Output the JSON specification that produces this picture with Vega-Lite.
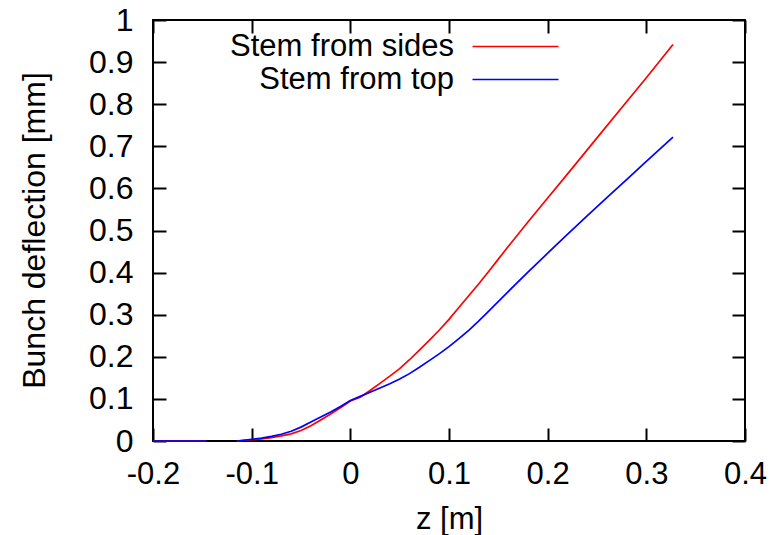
{
  "$schema": "https://vega.github.io/schema/vega-lite/v6.json",
  "width": 592,
  "height": 421,
  "autosize": {"type": "none"},
  "padding": {"left": 153, "top": 20, "right": 29, "bottom": 94},
  "background": "white",
  "config": {
    "font": "Liberation Sans",
    "view": {"stroke": "black", "strokeWidth": 2},
    "axis": {
      "domain": false,
      "grid": false,
      "tickColor": "black",
      "tickWidth": 2,
      "tickSize": -13,
      "labelColor": "black",
      "labelFontSize": 31,
      "titleColor": "black",
      "titleFontSize": 31,
      "titleFontWeight": "normal",
      "labelFlush": false,
      "labelOverlap": false
    }
  },
  "data": {
    "values": [
      {"series": "Stem from sides", "seg": "a", "z": -0.2, "v": 0},
      {"series": "Stem from sides", "seg": "a", "z": -0.146, "v": 0},
      {"series": "Stem from sides", "seg": "b", "z": -0.115, "v": 0},
      {"series": "Stem from sides", "seg": "b", "z": -0.1, "v": 0.003},
      {"series": "Stem from sides", "seg": "b", "z": -0.09, "v": 0.005},
      {"series": "Stem from sides", "seg": "b", "z": -0.08, "v": 0.008},
      {"series": "Stem from sides", "seg": "b", "z": -0.07, "v": 0.012},
      {"series": "Stem from sides", "seg": "b", "z": -0.06, "v": 0.017},
      {"series": "Stem from sides", "seg": "b", "z": -0.05, "v": 0.025},
      {"series": "Stem from sides", "seg": "b", "z": -0.04, "v": 0.036},
      {"series": "Stem from sides", "seg": "b", "z": -0.03, "v": 0.05},
      {"series": "Stem from sides", "seg": "b", "z": -0.02, "v": 0.064},
      {"series": "Stem from sides", "seg": "b", "z": -0.01, "v": 0.079},
      {"series": "Stem from sides", "seg": "b", "z": 0, "v": 0.095},
      {"series": "Stem from sides", "seg": "b", "z": 0.01, "v": 0.104},
      {"series": "Stem from sides", "seg": "b", "z": 0.02, "v": 0.12},
      {"series": "Stem from sides", "seg": "b", "z": 0.03, "v": 0.137},
      {"series": "Stem from sides", "seg": "b", "z": 0.04, "v": 0.154},
      {"series": "Stem from sides", "seg": "b", "z": 0.05, "v": 0.172},
      {"series": "Stem from sides", "seg": "b", "z": 0.06, "v": 0.193},
      {"series": "Stem from sides", "seg": "b", "z": 0.07, "v": 0.216},
      {"series": "Stem from sides", "seg": "b", "z": 0.08, "v": 0.239},
      {"series": "Stem from sides", "seg": "b", "z": 0.09, "v": 0.263},
      {"series": "Stem from sides", "seg": "b", "z": 0.1, "v": 0.289},
      {"series": "Stem from sides", "seg": "b", "z": 0.11, "v": 0.317},
      {"series": "Stem from sides", "seg": "b", "z": 0.12, "v": 0.345},
      {"series": "Stem from sides", "seg": "b", "z": 0.13, "v": 0.373},
      {"series": "Stem from sides", "seg": "b", "z": 0.14, "v": 0.402},
      {"series": "Stem from sides", "seg": "b", "z": 0.15, "v": 0.432},
      {"series": "Stem from sides", "seg": "b", "z": 0.16, "v": 0.462},
      {"series": "Stem from sides", "seg": "b", "z": 0.18, "v": 0.52},
      {"series": "Stem from sides", "seg": "b", "z": 0.2, "v": 0.577},
      {"series": "Stem from sides", "seg": "b", "z": 0.22, "v": 0.634},
      {"series": "Stem from sides", "seg": "b", "z": 0.25, "v": 0.72},
      {"series": "Stem from sides", "seg": "b", "z": 0.28, "v": 0.806},
      {"series": "Stem from sides", "seg": "b", "z": 0.3, "v": 0.863},
      {"series": "Stem from sides", "seg": "b", "z": 0.327, "v": 0.942},
      {"series": "Stem from top", "seg": "a", "z": -0.2, "v": 0},
      {"series": "Stem from top", "seg": "a", "z": -0.146, "v": 0},
      {"series": "Stem from top", "seg": "b", "z": -0.115, "v": 0},
      {"series": "Stem from top", "seg": "b", "z": -0.1, "v": 0.004},
      {"series": "Stem from top", "seg": "b", "z": -0.09, "v": 0.007},
      {"series": "Stem from top", "seg": "b", "z": -0.08, "v": 0.011},
      {"series": "Stem from top", "seg": "b", "z": -0.07, "v": 0.016},
      {"series": "Stem from top", "seg": "b", "z": -0.06, "v": 0.023},
      {"series": "Stem from top", "seg": "b", "z": -0.05, "v": 0.033},
      {"series": "Stem from top", "seg": "b", "z": -0.04, "v": 0.045},
      {"series": "Stem from top", "seg": "b", "z": -0.03, "v": 0.057},
      {"series": "Stem from top", "seg": "b", "z": -0.02, "v": 0.069},
      {"series": "Stem from top", "seg": "b", "z": -0.01, "v": 0.082},
      {"series": "Stem from top", "seg": "b", "z": 0, "v": 0.096},
      {"series": "Stem from top", "seg": "b", "z": 0.01, "v": 0.106},
      {"series": "Stem from top", "seg": "b", "z": 0.02, "v": 0.116},
      {"series": "Stem from top", "seg": "b", "z": 0.03, "v": 0.126},
      {"series": "Stem from top", "seg": "b", "z": 0.04, "v": 0.136},
      {"series": "Stem from top", "seg": "b", "z": 0.05, "v": 0.147},
      {"series": "Stem from top", "seg": "b", "z": 0.06, "v": 0.16},
      {"series": "Stem from top", "seg": "b", "z": 0.07, "v": 0.175},
      {"series": "Stem from top", "seg": "b", "z": 0.08, "v": 0.191},
      {"series": "Stem from top", "seg": "b", "z": 0.09, "v": 0.207},
      {"series": "Stem from top", "seg": "b", "z": 0.1, "v": 0.224},
      {"series": "Stem from top", "seg": "b", "z": 0.11, "v": 0.243},
      {"series": "Stem from top", "seg": "b", "z": 0.12, "v": 0.263},
      {"series": "Stem from top", "seg": "b", "z": 0.13, "v": 0.285},
      {"series": "Stem from top", "seg": "b", "z": 0.14, "v": 0.308},
      {"series": "Stem from top", "seg": "b", "z": 0.16, "v": 0.355},
      {"series": "Stem from top", "seg": "b", "z": 0.18, "v": 0.401},
      {"series": "Stem from top", "seg": "b", "z": 0.2, "v": 0.446},
      {"series": "Stem from top", "seg": "b", "z": 0.22, "v": 0.491},
      {"series": "Stem from top", "seg": "b", "z": 0.24, "v": 0.535},
      {"series": "Stem from top", "seg": "b", "z": 0.26, "v": 0.578},
      {"series": "Stem from top", "seg": "b", "z": 0.28, "v": 0.621},
      {"series": "Stem from top", "seg": "b", "z": 0.3, "v": 0.664},
      {"series": "Stem from top", "seg": "b", "z": 0.327, "v": 0.722}
    ]
  },
  "layer": [
    {
      "mark": {"type": "line", "strokeWidth": 1.7},
      "encoding": {
        "x": {
          "field": "z", "type": "quantitative",
          "scale": {"domain": [-0.2, 0.4], "nice": false, "zero": false},
          "axis": {
            "orient": "bottom",
            "values": [-0.2, -0.1, 0, 0.1, 0.2, 0.3, 0.4],
            "format": "~g",
            "labelExpr": "replace(datum.label, '\u2212', '-')",
            "labelPadding": 31,
            "title": "z [m]",
            "titleY": 87,
            "titleBaseline": "alphabetic"
          }
        },
        "y": {
          "field": "v", "type": "quantitative",
          "scale": {"domain": [0, 1], "nice": false},
          "axis": {
            "orient": "left",
            "values": [0, 0.1, 0.2, 0.3, 0.4, 0.5, 0.6, 0.7, 0.8, 0.9, 1],
            "format": "~g",
            "labelFontSize": 32,
            "labelPadding": 33,
            "labelBaseline": "middle",
            "title": "Bunch deflection [mm]",
            "titleFontSize": 32,
            "titleX": -109,
            "titleY": 210,
            "titleAngle": -90,
            "titleAlign": "center",
            "titleBaseline": "alphabetic"
          }
        },
        "color": {
          "field": "series", "type": "nominal",
          "scale": {"domain": ["Stem from sides", "Stem from top"], "range": ["#ff0000", "#0000ff"]},
          "legend": {
            "orient": "none",
            "legendX": 347,
            "legendY": 11,
            "title": null,
            "padding": 0,
            "symbolType": "M-10,0H10",
            "symbolSize": 74,
            "symbolStrokeWidth": 1.7,
            "labelFontSize": 31,
            "labelColor": "black",
            "labelAlign": "right",
            "labelOffset": -77,
            "labelLimit": 0,
            "rowPadding": 1
          }
        },
        "detail": {"field": "seg"}
      }
    },
    {
      "mark": {"type": "line", "opacity": 0},
      "encoding": {
        "x": {
          "field": "z", "type": "quantitative",
          "axis": {"orient": "top", "values": [-0.2, -0.1, 0, 0.1, 0.2, 0.3, 0.4], "labels": false, "title": null}
        },
        "y": {
          "field": "v", "type": "quantitative",
          "axis": {"orient": "right", "values": [0, 0.1, 0.2, 0.3, 0.4, 0.5, 0.6, 0.7, 0.8, 0.9, 1], "labels": false, "title": null}
        },
        "detail": {"field": "seg"}
      }
    }
  ],
  "resolve": {"axis": {"x": "independent", "y": "independent"}}
}
